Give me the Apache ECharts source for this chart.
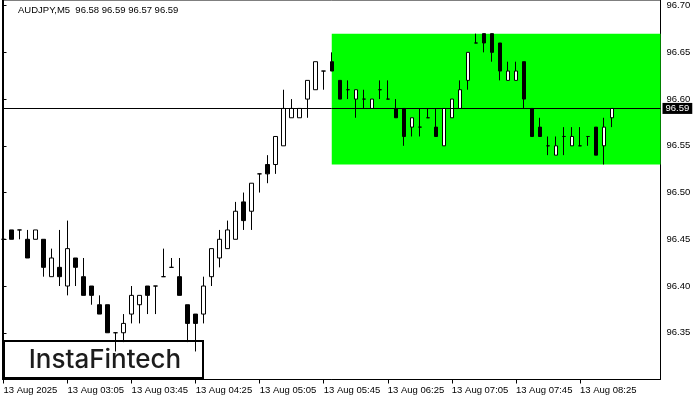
<!DOCTYPE html>
<html><head><meta charset="utf-8">
<script src="https://cdn.jsdelivr.net/npm/echarts@6/dist/echarts.min.js"></script>
<style>html,body{margin:0;padding:0;background:#fff}#c{width:700px;height:400px}</style>
</head><body><div id="c"></div>
<script>
const symbol = 'AUDJPY';
const timeframe = 'M5';
const opens  = [96.45,96.46,96.46,96.45,96.45,96.45,96.41,96.42,96.40,96.43,96.41,96.40,96.38,96.38,96.35,96.35,96.37,96.38,96.40,96.40,
                96.41,96.42,96.41,96.38,96.37,96.37,96.41,96.43,96.44,96.45,96.49,96.48,96.52,96.53,96.53,96.55,96.58,96.58,96.60,96.61,
                96.63,96.64,96.62,96.61,96.60,96.60,96.59,96.61,96.60,96.59,96.59,96.57,96.57,96.58,96.57,96.55,96.58,96.59,96.62,96.66,
                96.67,96.67,96.66,96.62,96.62,96.64,96.59,96.57,96.55,96.54,96.56,96.55,96.55,96.56,96.57,96.55,96.58];
const highs  = [96.46,96.46,96.46,96.46,96.46,96.45,96.44,96.46,96.47,96.43,96.43,96.40,96.39,96.38,96.35,96.37,96.40,96.39,96.40,96.40,
                96.44,96.43,96.43,96.38,96.37,96.41,96.44,96.46,96.47,96.49,96.50,96.51,96.52,96.54,96.56,96.61,96.60,96.59,96.62,96.64,
                96.63,96.65,96.62,96.62,96.61,96.61,96.60,96.62,96.62,96.60,96.59,96.58,96.59,96.59,96.59,96.59,96.60,96.62,96.65,96.67,
                96.67,96.67,96.66,96.64,96.64,96.64,96.59,96.58,96.56,96.56,96.57,96.57,96.57,96.56,96.57,96.58,96.59];
const lows   = [96.45,96.45,96.45,96.43,96.45,96.41,96.41,96.40,96.39,96.40,96.39,96.38,96.37,96.35,96.33,96.34,96.36,96.36,96.37,96.37,
                96.41,96.42,96.39,96.34,96.33,96.36,96.40,96.42,96.44,96.45,96.46,96.46,96.50,96.51,96.52,96.55,96.58,96.58,96.58,96.61,
                96.61,96.63,96.60,96.60,96.58,96.59,96.59,96.60,96.60,96.58,96.55,96.56,96.56,96.58,96.56,96.55,96.58,96.59,96.61,96.66,
                96.65,96.64,96.62,96.62,96.62,96.59,96.56,96.56,96.54,96.54,96.54,96.55,96.55,96.55,96.54,96.53,96.57];
const closes = [96.45,96.45,96.46,96.43,96.46,96.42,96.43,96.41,96.44,96.42,96.39,96.39,96.37,96.35,96.35,96.36,96.39,96.39,96.39,96.40,
                96.41,96.42,96.39,96.36,96.36,96.40,96.44,96.45,96.46,96.48,96.47,96.51,96.52,96.52,96.56,96.59,96.59,96.59,96.62,96.64,
                96.63,96.63,96.60,96.61,96.61,96.60,96.60,96.61,96.60,96.58,96.56,96.58,96.57,96.58,96.56,96.59,96.60,96.61,96.65,96.66,
                96.66,96.65,96.63,96.63,96.63,96.60,96.56,96.56,96.55,96.55,96.56,96.56,96.55,96.56,96.54,96.57,96.59];
const tickIdx = [0, 8, 16, 24, 32, 40, 48, 56, 64, 72];
const tickLabels = ['13 Aug 2025','13 Aug 03:05','13 Aug 03:45','13 Aug 04:25','13 Aug 05:05',
                    '13 Aug 05:45','13 Aug 06:25','13 Aug 07:05','13 Aug 07:45','13 Aug 08:25'];
const yTicks = [96.35, 96.40, 96.45, 96.50, 96.55, 96.60, 96.65, 96.70];
const currentPrice = 96.59;
const zoneStart = 41, zoneTop = 96.67, zoneBottom = 96.53;
const brandName = 'InstaFintech';

const xMin = -0.125, xMax = 82.0625;
const yMin = 96.30, yMax = 96.706;
const last = opens.length - 1;
const titleText = symbol + ',' + timeframe + '  ' +
  [opens[last], highs[last], lows[last], closes[last]].map(v => v.toFixed(2)).join(' ');
const candleData = opens.map((o, i) => [i, o, closes[i], lows[i], highs[i]]);
const FONT = 'Liberation Sans';

const chart = echarts.init(document.getElementById('c'), null, {renderer: 'canvas'});
chart.setOption({
  animation: false,
  backgroundColor: '#ffffff',
  title: {
    text: titleText, left: 18, top: 5, padding: 0,
    textStyle: {fontSize: 9.5, fontWeight: 'normal', fontFamily: FONT, color: '#000'}
  },
  grid: {left: 2.5, right: 39.5, top: -0.5, bottom: 20.5, show: true,
         borderColor: '#000', borderWidth: 1, backgroundColor: 'transparent'},
  xAxis: {
    type: 'value', min: xMin, max: xMax,
    axisLine: {show: true, lineStyle: {color: '#000', width: 1}},
    axisTick: {show: true, customValues: tickIdx, length: 4, lineStyle: {color: '#000'}},
    axisLabel: {
      show: true, customValues: tickIdx, align: 'left', margin: 6,
      fontSize: 9.5, fontFamily: FONT, color: '#000',
      formatter: v => tickLabels[tickIdx.indexOf(Math.round(v))] || ''
    },
    splitLine: {show: false}
  },
  yAxis: {
    type: 'value', position: 'right', min: yMin, max: yMax,
    axisLine: {show: true, lineStyle: {color: '#000', width: 1}},
    axisTick: {show: true, customValues: yTicks, length: 3, lineStyle: {color: '#000'}},
    axisLabel: {
      show: true, customValues: yTicks, margin: 6, fontSize: 9.5, fontFamily: FONT, color: '#000',
      formatter: v => v.toFixed(2)
    },
    splitLine: {show: false}
  },
  series: [{
    type: 'candlestick',
    barWidth: 4,
    data: candleData,
    itemStyle: {
      color: '#ffffff', color0: '#000000',
      borderColor: '#000000', borderColor0: '#000000', borderColorDoji: '#000000',
      borderWidth: 1
    },
    emphasis: {disabled: true},
    markArea: {
      silent: true,
      itemStyle: {color: '#00ff00', opacity: 1},
      data: [[{xAxis: zoneStart, yAxis: zoneTop}, {xAxis: xMax, yAxis: zoneBottom}]]
    },
    markLine: {
      silent: true, symbol: 'none', animation: false,
      lineStyle: {color: '#000', width: 1, type: 'solid'},
      label: {
        show: true, position: 'end', distance: 2,
        formatter: p => Number(p.value).toFixed(2),
        backgroundColor: '#000', color: '#fff', padding: [1, 3, 0, 3],
        fontSize: 9.5, fontFamily: FONT
      },
      emphasis: {disabled: true},
      data: [{yAxis: currentPrice}]
    }
  }],
  graphic: [{
    type: 'group', left: 3, top: 340, z: 100,
    children: [{
      type: 'rect', shape: {x: 0, y: 0, width: 199, height: 37},
      style: {fill: '#fff', stroke: '#000', lineWidth: 2}
    }, {
      type: 'text', x: 101, y: 19,
      style: {text: brandName, fill: '#1c1c1c', font: '500 26px Inter', textAlign: 'center', textVerticalAlign: 'middle'}
    }]
  }]
});
</script>
</body></html>
